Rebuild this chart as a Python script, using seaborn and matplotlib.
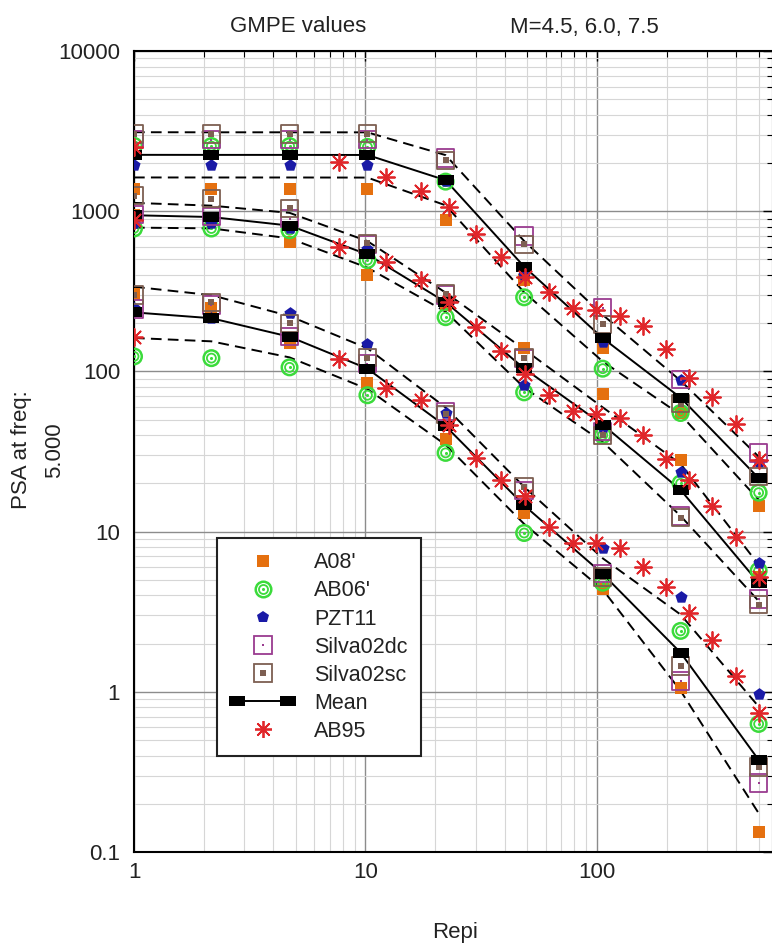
import numpy as np
import pandas as pd
import matplotlib
matplotlib.use("Agg")
import matplotlib.pyplot as plt
import matplotlib.ticker as mticker
from matplotlib.lines import Line2D
from matplotlib.legend_handler import HandlerLine2D, HandlerTuple
import seaborn as sns

# Epicentral distances (km) where the five GMPEs are evaluated
repi = [1, 2.16, 4.7, 10.2, 22.2, 48.5, 106, 230, 500]
magnitudes = [4.5, 6.0, 7.5]

# PSA (5 Hz) per model and magnitude
a08_m45 = [305, 250, 150, 85, 38, 13.1, 4.4, 1.05, 0.134]
a08_m60 = [950, 900, 640, 400, 260, 139, 72, 28, 5.2]
a08_m75 = [1370, 1370, 1370, 1370, 875, 370, 140, 55, 14.5]

ab06_m45 = [124, 121, 106, 71, 31, 9.8, 4.8, 2.4, 0.63]
ab06_m60 = [780, 780, 760, 495, 218, 74, 40, 20, 5.7]
ab06_m75 = [2560, 2550, 2550, 2520, 1530, 290, 104, 55, 17.5]

pzt11_m45 = [250, 215, 230, 148, 55, 15, 7.9, 3.9, 0.97]
pzt11_m60 = [850, 840, 780, 580, 280, 82, 45, 23.4, 6.4]
pzt11_m75 = [1930, 1930, 1930, 1930, 1550, 400, 152, 89, 27]

silva_dc_m45 = [245, 260, 165, 112, 56, 18, 5.5, 1.17, 0.27]
silva_dc_m60 = [950, 930, 900, 620, 300, 120, 42, 12.5, 3.8]
silva_dc_m75 = [2800, 2800, 2800, 2800, 2150, 700, 250, 89, 31]

silva_sc_m45 = [300, 270, 200, 122, 54, 19, 5.2, 1.45, 0.34]
silva_sc_m60 = [1250, 1200, 1040, 630, 305, 122, 40, 12.2, 3.5]
silva_sc_m75 = [3030, 3030, 3030, 3050, 2080, 620, 197, 63, 22]

# AB95 is evaluated on its own distance grid
ab95_repi = [1, 7.7, 12.3, 17.3, 23.0, 30.0, 38.5, 49.1, 62.3, 78.8, 99.5,
             125.6, 158.2, 199.3, 250.8, 315.8, 397.8, 500.9]
ab95_m45 = [163, 120, 79, 66, 46, 29, 21, 16.7, 10.7, 8.5, 8.5, 7.9, 6.0,
            4.5, 3.1, 2.1, 1.26, 0.74]
ab95_m60 = [875, 600, 480, 370, 270, 188, 135, 97, 71, 57, 54.6, 51, 40,
            28.5, 21, 14.5, 9.2, 5.2]
ab95_m75 = [2500, 2040, 1630, 1330, 1060, 720, 515, 390, 313, 250, 240, 223,
            191, 137, 91, 69, 47, 28]

model_names = ["A08'", "AB06'", "PZT11", "Silva02dc", "Silva02sc"]
model_values = {
    "A08'": [a08_m45, a08_m60, a08_m75],
    "AB06'": [ab06_m45, ab06_m60, ab06_m75],
    "PZT11": [pzt11_m45, pzt11_m60, pzt11_m75],
    "Silva02dc": [silva_dc_m45, silva_dc_m60, silva_dc_m75],
    "Silva02sc": [silva_sc_m45, silva_sc_m60, silva_sc_m75],
}

rows = []
for name in model_names:
    for mag, vals in zip(magnitudes, model_values[name]):
        for r, v in zip(repi, vals):
            rows.append((name, mag, r, v))
df = pd.DataFrame(rows, columns=["model", "M", "Repi", "PSA"])

ab_rows = []
for mag, vals in zip(magnitudes, [ab95_m45, ab95_m60, ab95_m75]):
    for r, v in zip(ab95_repi, vals):
        ab_rows.append((mag, r, v))
df_ab95 = pd.DataFrame(ab_rows, columns=["M", "Repi", "PSA"])

# Log-mean of the five models and +/- one standard deviation
df["logPSA"] = np.log10(df["PSA"])
stats = (df.groupby(["M", "Repi"])["logPSA"]
           .agg(["mean", "std"]).reset_index())
stats["mean_psa"] = 10 ** stats["mean"]
stats["upper"] = 10 ** (stats["mean"] + stats["std"])
stats["lower"] = 10 ** (stats["mean"] - stats["std"])

sns.set_theme(style="white")
plt.rcParams["font.family"] = ["Liberation Sans", "DejaVu Sans"]

W, H = 772, 946
fig = plt.figure(figsize=(W / 100, H / 100), dpi=100)
ax_l, ax_r, ax_t, ax_b = 134, 773, 51, 852
ax = fig.add_axes([ax_l / W, 1 - ax_b / H, (ax_r - ax_l) / W, (ax_b - ax_t) / H])
ax.set_xscale("log")
ax.set_yscale("log")

c_orange = "#E5700F"
c_green = "#3BDB3B"
c_blue = "#1A1AA6"
c_purple = "#9A3C90"
c_brown = "#7D5F52"
c_red = "#E0262A"

mean_marker = [(-1, -0.62), (1, -0.62), (1, 0.62), (-1, 0.62), (-1, -0.62)]
dash = (0, (5.5, 3.2))

# Mean and +/- sigma curves
for col, ls in [("upper", dash), ("lower", dash), ("mean_psa", "-")]:
    sns.lineplot(data=stats, x="Repi", y=col, units="M", estimator=None,
                 color="black", linewidth=1.4, linestyle=ls, ax=ax,
                 legend=False, zorder=2)


def sub(name):
    return df[df["model"] == name]


sns.scatterplot(data=sub("A08'"), x="Repi", y="PSA", marker="s", s=72,
                color=c_orange, edgecolor=c_orange, linewidth=0, ax=ax,
                legend=False, zorder=3)
for size, lw in [(125, 1.8), (42, 1.3)]:
    sns.scatterplot(data=sub("AB06'"), x="Repi", y="PSA", marker="o", s=size,
                    facecolor="none", edgecolor=c_green, linewidth=lw, ax=ax,
                    legend=False, zorder=3)
sns.scatterplot(data=sub("AB06'"), x="Repi", y="PSA", marker="o", s=5,
                color=c_green, edgecolor=c_green, linewidth=0, ax=ax,
                legend=False, zorder=3)
sns.scatterplot(data=sub("PZT11"), x="Repi", y="PSA", marker="p", s=85,
                color=c_blue, edgecolor=c_blue, linewidth=0, ax=ax,
                legend=False, zorder=3)
sns.scatterplot(data=sub("Silva02dc"), x="Repi", y="PSA", marker="s", s=155,
                facecolor="none", edgecolor=c_purple, linewidth=1.3, ax=ax,
                legend=False, zorder=3)
sns.scatterplot(data=sub("Silva02dc"), x="Repi", y="PSA", marker="s", s=3,
                color=c_purple, edgecolor=c_purple, linewidth=0, ax=ax,
                legend=False, zorder=3)
sns.scatterplot(data=sub("Silva02sc"), x="Repi", y="PSA", marker="s", s=155,
                facecolor="none", edgecolor=c_brown, linewidth=1.3, ax=ax,
                legend=False, zorder=3)
sns.scatterplot(data=sub("Silva02sc"), x="Repi", y="PSA", marker="s", s=14,
                color=c_brown, edgecolor=c_brown, linewidth=0, ax=ax,
                legend=False, zorder=3)
sns.scatterplot(data=stats, x="Repi", y="mean_psa", marker=mean_marker, s=125,
                color="black", edgecolor="black", linewidth=0, ax=ax,
                legend=False, zorder=4)
sns.scatterplot(data=df_ab95, x="Repi", y="PSA", marker=(8, 2, 0), s=150,
                color=c_red, edgecolor=c_red, linewidth=1.3, ax=ax,
                legend=False, zorder=5)

# Axes, ticks and grid
x_max = 10 ** ((ax_r - 134.5) / 231.25)
ax.set_xlim(1, x_max)
ax.set_ylim(0.1, 10000)
ax.xaxis.set_major_locator(mticker.FixedLocator([1, 10, 100]))
ax.xaxis.set_major_formatter(mticker.FixedFormatter(["1", "10", "100"]))
ax.xaxis.set_minor_locator(mticker.LogLocator(base=10, subs=np.arange(2, 10), numticks=20))
ax.xaxis.set_minor_formatter(mticker.NullFormatter())
yt = [0.1, 1, 10, 100, 1000, 10000]
ax.yaxis.set_major_locator(mticker.FixedLocator(yt))
ax.yaxis.set_major_formatter(mticker.FixedFormatter(["0.1", "1", "10", "100", "1000", "10000"]))
ax.yaxis.set_minor_locator(mticker.LogLocator(base=10, subs=np.arange(2, 10), numticks=20))
ax.yaxis.set_minor_formatter(mticker.NullFormatter())

ax.grid(which="major", color="#8c8c8c", linewidth=1.0)
ax.grid(which="minor", color="#d6d6d6", linewidth=0.8)
ax.set_axisbelow(True)
ax.tick_params(which="both", direction="in", top=True, right=True,
               colors="black", labelcolor="#222222")
ax.tick_params(which="major", length=7, width=1.0, labelsize=16)
ax.tick_params(axis="y", which="major", pad=10)
ax.tick_params(axis="x", which="major", pad=7)
ax.tick_params(which="minor", length=4, width=0.8)
for sp in ax.spines.values():
    sp.set_color("black")
    sp.set_linewidth(1.5)
ax.set_xlabel("")
ax.set_ylabel("")

fig.text(298 / W, 1 - 27 / H, "GMPE values", ha="center", va="center",
         fontsize=16, color="#222222")
fig.text(584 / W, 1 - 27 / H, "M=4.5, 6.0, 7.5", ha="center", va="center",
         fontsize=16, color="#222222")
fig.text(455 / W, 1 - 932 / H, "Repi", ha="center", va="center",
         fontsize=16, color="#222222")
fig.text(38 / W, 1 - 450 / H, "PSA at freq:\n5.000", ha="center", va="center",
         rotation=90, fontsize=16, color="#222222", linespacing=1.7,
         multialignment="center")

# Legend
h_a08 = Line2D([], [], linestyle="none", marker="s", markersize=8.5,
               color=c_orange, markeredgewidth=0)
h_ab06 = (Line2D([], [], linestyle="none", marker="o", markersize=11.2,
                 markerfacecolor="none", markeredgecolor=c_green, markeredgewidth=1.8),
          Line2D([], [], linestyle="none", marker="o", markersize=6.5,
                 markerfacecolor="none", markeredgecolor=c_green, markeredgewidth=1.3),
          Line2D([], [], linestyle="none", marker="o", markersize=2.2,
                 color=c_green, markeredgewidth=0))
h_pzt = Line2D([], [], linestyle="none", marker="p", markersize=9.2,
               color=c_blue, markeredgewidth=0)
h_dc = (Line2D([], [], linestyle="none", marker="s", markersize=12.4,
               markerfacecolor="none", markeredgecolor=c_purple, markeredgewidth=1.3),
        Line2D([], [], linestyle="none", marker="s", markersize=1.7,
               color=c_purple, markeredgewidth=0))
h_sc = (Line2D([], [], linestyle="none", marker="s", markersize=12.4,
               markerfacecolor="none", markeredgecolor=c_brown, markeredgewidth=1.3),
        Line2D([], [], linestyle="none", marker="s", markersize=3.7,
               color=c_brown, markeredgewidth=0))
h_mean = Line2D([], [], color="black", linewidth=1.4, marker=mean_marker,
                markersize=11.2, markeredgewidth=0)
h_ab95 = Line2D([], [], linestyle="none", marker=(8, 2, 0), markersize=12.2,
                color=c_red, markeredgewidth=1.3)

handles = [h_a08, h_ab06, h_pzt, h_dc, h_sc, h_mean, h_ab95]
labels = ["A08'", "AB06'", "PZT11", "Silva02dc", "Silva02sc", "Mean", "AB95"]
leg = ax.legend(handles, labels, loc="lower left",
                bbox_to_anchor=(217 / W, 1 - 756 / H), bbox_transform=fig.transFigure,
                borderaxespad=0, fontsize=15.5, frameon=True, fancybox=False,
                framealpha=1, edgecolor="#222222", borderpad=0.65,
                handlelength=2.95, handletextpad=0.9, labelspacing=0.33,
                numpoints=1,
                handler_map={h_mean: HandlerLine2D(numpoints=2),
                             tuple: HandlerTuple(ndivide=1)})
leg.get_frame().set_linewidth(1.5)
leg.set_zorder(10)
for t in leg.get_texts():
    t.set_color("#222222")

fig.savefig("out.png", dpi=100)
